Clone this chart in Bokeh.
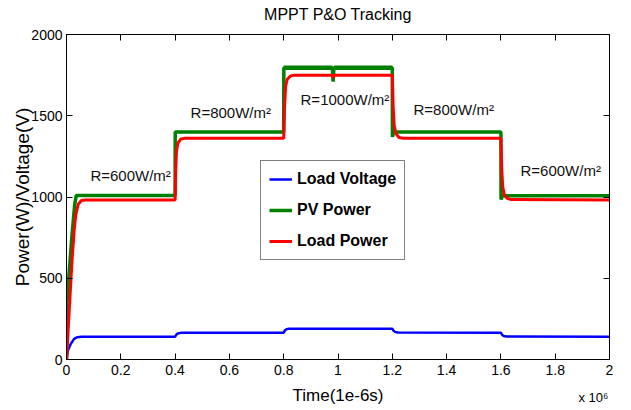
from bokeh.plotting import figure
from bokeh.models import (Range1d, FixedTicker, LinearAxis, Legend, LegendItem,
                          ColumnDataSource, Label)
from bokeh.core.properties import value
from bokeh.embed import file_html
from bokeh.resources import INLINE

FONT = "Liberation Sans"

# Axis ticks (time axis is in units of 10^6 samples of 1e-6 s)
x_ticks = [0, 0.2, 0.4, 0.6, 0.8, 1, 1.2, 1.4, 1.6, 1.8, 2]
x_tick_labels = ["0", "0.2", "0.4", "0.6", "0.8", "1", "1.2", "1.4", "1.6", "1.8", "2"]
y_ticks = [0, 500, 1000, 1500, 2000]

# Load voltage (V)
t_voltage = [0, 0.005, 0.016, 0.028, 0.04, 0.055, 0.4, 0.404, 0.41, 0.42,
             0.8, 0.804, 0.81, 0.82, 1.2, 1.204, 1.21, 1.22,
             1.6, 1.604, 1.61, 1.62, 2.0]
load_voltage = [0, 55, 97, 127, 137, 140, 140, 152, 160, 164,
                165, 178, 186, 190, 190, 178, 170, 166,
                165, 152, 145, 141, 140]

# PV power (W) and the half-width of its switching ripple band
t_pv = [0, 0.002, 0.01, 0.02, 0.03, 0.036, 0.4, 0.4005,
        0.8, 0.8005, 0.979, 0.982, 0.985, 1.2, 1.2005, 1.205,
        1.6, 1.6005, 1.605, 2.0]
pv_power = [0, 360, 540, 760, 950, 1010, 1010, 1400,
            1400, 1795, 1795, 1710, 1795, 1795, 1370, 1400,
            1400, 985, 1007, 1007]
pv_ripple = [0, 0, 0, 0, 0, 6, 6, 6,
             6, 14, 14, 0, 14, 14, 6, 6,
             6, 6, 6, 6]

# Load power (W)
t_load = [0, 0.01, 0.02, 0.028, 0.034, 0.043, 0.055, 0.07,
          0.4, 0.402, 0.405, 0.41, 0.42, 0.435,
          0.8, 0.803, 0.807, 0.813, 0.825, 0.84, 0.979, 0.982, 0.985,
          1.2, 1.203, 1.207, 1.213, 1.225, 1.24,
          1.6, 1.603, 1.607, 1.613, 1.625, 1.64, 2.0]
load_power = [0, 300, 600, 790, 890, 955, 978, 982,
              982, 1150, 1280, 1330, 1355, 1362,
              1362, 1550, 1680, 1725, 1745, 1750, 1750, 1732, 1750,
              1750, 1560, 1440, 1390, 1366, 1362,
              1362, 1170, 1060, 1010, 990, 984, 982]

# Irradiance step annotations
irr_t = [0.088, 0.457, 0.862, 1.278, 1.672]
irr_level = [1132, 1520, 1600, 1538, 1163]
irr_text = ["R=600W/m²", "R=800W/m²", "R=1000W/m²", "R=800W/m²", "R=600W/m²"]

p = figure(width=631, height=410, output_backend="svg", toolbar_location=None,
           x_range=Range1d(0, 2), y_range=Range1d(0, 2000),
           min_border_left=66, min_border_right=22,
           min_border_top=34, min_border_bottom=51,
           background_fill_color="white", border_fill_color="white",
           outline_line_color="black", outline_line_width=1)
p.xgrid.visible = False
p.ygrid.visible = False

xax = p.below[0]
yax = p.left[0]
xax.ticker = FixedTicker(ticks=x_ticks)
xax.major_label_overrides = {t: s for t, s in zip(x_ticks, x_tick_labels)}
yax.ticker = FixedTicker(ticks=y_ticks)

right_axis = LinearAxis(ticker=FixedTicker(ticks=y_ticks))
top_axis = LinearAxis(ticker=FixedTicker(ticks=x_ticks))
p.add_layout(right_axis, "right")
p.add_layout(top_axis, "above")

for ax in (xax, yax, right_axis, top_axis):
    ax.major_tick_in = 6
    ax.major_tick_out = 0
    ax.minor_tick_line_color = None
    ax.axis_line_color = "black"
    ax.major_tick_line_color = "black"
    ax.major_label_text_font = FONT
    ax.major_label_text_font_size = "14px"
    ax.major_label_text_color = "black"
    ax.axis_label_text_font = FONT
    ax.axis_label_text_font_style = "normal"
    ax.axis_label_text_color = "black"
for ax in (right_axis, top_axis):
    ax.major_label_text_color = None
    ax.major_label_text_font_size = "0px"
    ax.major_label_standoff = 0

xax.major_label_standoff = 5
xax.axis_label = "Time(1e-6s)"
xax.axis_label_text_font_size = "17px"
xax.axis_label_standoff = 8

yax.major_label_standoff = 4
yax.axis_label = "Power(W)/Voltage(V)"
yax.axis_label_text_font_size = "19px"
yax.axis_label_standoff = -5

# Chart title and the time-axis exponent, kept in the top margin panel
# (offsets are measured from that panel's lower-left corner)
p.add_layout(Label(x=271.5, y=20, x_units="screen", y_units="screen",
                   text="MPPT P&O Tracking", text_font=FONT, text_font_size="16px",
                   text_align="center", text_baseline="middle", text_color="black"),
             "above")
p.add_layout(Label(x=512, y=-380, x_units="screen", y_units="screen",
                   text="x 10⁶", text_font=FONT, text_font_size="13px",
                   text_align="left", text_baseline="middle", text_color="black"),
             "above")

src_v = ColumnDataSource(dict(t=t_voltage, v=load_voltage))
src_pv = ColumnDataSource(dict(t=t_pv, p=pv_power,
                               lo=[a - b for a, b in zip(pv_power, pv_ripple)],
                               hi=[a + b for a, b in zip(pv_power, pv_ripple)]))
src_load = ColumnDataSource(dict(t=t_load, p=load_power))

r_v = p.line("t", "v", source=src_v, line_color="#0000ff", line_width=2.5)
p.varea(x="t", y1="lo", y2="hi", source=src_pv, fill_color="#008000")
r_pv = p.line("t", "p", source=src_pv, line_color="#008000", line_width=3.5)
r_load = p.line("t", "p", source=src_load, line_color="#ff0000", line_width=3)

src_txt = ColumnDataSource(dict(t=irr_t, y=irr_level, label=irr_text))
p.text(x="t", y="y", text="label", source=src_txt, text_font=value(FONT),
       text_font_size="15px", text_align="left", text_baseline="middle",
       text_color="#111111")

legend = Legend(items=[LegendItem(label="Load Voltage", renderers=[r_v]),
                       LegendItem(label="PV Power", renderers=[r_pv]),
                       LegendItem(label="Load Power", renderers=[r_load])],
                location=(194, 99), orientation="vertical",
                label_text_font=FONT, label_text_font_style="bold",
                label_text_font_size="16px", label_text_color="black",
                glyph_width=23, glyph_height=20, label_height=20,
                spacing=11, padding=8, margin=0, label_standoff=5,
                border_line_color="black", border_line_width=1,
                background_fill_color="white", background_fill_alpha=1)
p.add_layout(legend, "center")

open("out.html", "w").write(file_html(p, INLINE))
